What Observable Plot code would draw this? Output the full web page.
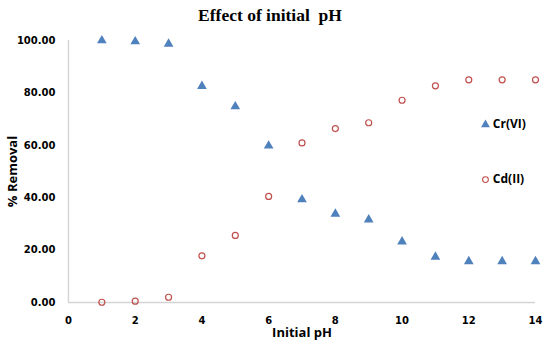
<!DOCTYPE html>
<html><head><meta charset="utf-8">
<script src="https://cdn.jsdelivr.net/npm/d3@7"></script>
<script src="https://cdn.jsdelivr.net/npm/@observablehq/plot@0.6"></script>
<style>
body{margin:0;background:#fff;}
#wrap{position:relative;width:550px;height:346px;}
#title{position:absolute;top:7px;left:0;width:540px;text-align:center;line-height:17.5px;font-family:"Liberation Serif","Times New Roman",serif;font-weight:bold;font-size:17.5px;color:#000;}
</style></head><body>
<div id="wrap"><div id="title">Effect of initial&nbsp; pH</div></div>
<script>
const pH = [1, 2, 3, 4, 5, 6, 7, 8, 9, 10, 11, 12, 13, 14];
const crVI = [100, 99.6, 98.7, 82.6, 74.8, 59.8, 39.3, 33.8, 31.6, 23.2, 17.4, 15.7, 15.7, 15.7];
const cdII = [0.1, 0.5, 2.0, 17.8, 25.6, 40.5, 60.9, 66.4, 68.6, 77.2, 82.7, 85.0, 85.0, 85.0];
const seriesNames = ["Cr(VI)", "Cd(II)"];
const xTicks = [0, 2, 4, 6, 8, 10, 12, 14];
const yTicks = [0, 20, 40, 60, 80, 100];

const crRows = pH.map((p, i) => ({pH: p, value: crVI[i], series: seriesNames[0]}));
const cdRows = pH.map((p, i) => ({pH: p, value: cdII[i], series: seriesNames[1]}));

// legend anchor in data space
const legendX = 12.5;
const legendRows = [
  {pH: legendX, value: 67.9, series: seriesNames[0]},
  {pH: legendX, value: 46.9, series: seriesNames[1]}
];

const blue = "#4f81bd", red = "#c0504d", axisGray = "#d4d4d4";

const chart = Plot.plot({
  width: 550,
  height: 346,
  marginLeft: 68,
  marginRight: 15,
  marginTop: 40,
  marginBottom: 44,
  style: {fontFamily: "'Open Sans', sans-serif", background: "#fff", color: "#000"},
  x: {domain: [0, 14]},
  y: {domain: [0, 100]},
  marks: [
    Plot.ruleY([0], {stroke: axisGray, strokeWidth: 1.4}),
    Plot.ruleX([0], {stroke: axisGray, strokeWidth: 1.4}),
    Plot.axisX(xTicks, {tickSize: 0, tickPadding: 14, fontFamily: "DejaVu Sans", fontSize: 10, fontWeight: "bold", fill: "#000", label: null}),
    Plot.axisY(yTicks, {tickSize: 0, tickPadding: 13, tickFormat: d3.format(".2f"), fontFamily: "DejaVu Sans", fontSize: 10, fontWeight: "bold", fill: "#000", label: null}),
    Plot.axisX([], {label: "Initial pH", labelArrow: "none", labelAnchor: "center", labelOffset: 34, fontFamily: "'Open Sans'", fontSize: 13, fontWeight: "bold", fill: "#000"}),
    Plot.axisY([], {label: "% Removal", labelArrow: "none", labelAnchor: "center", labelOffset: 61, fontFamily: "'Open Sans'", fontSize: 13, fontWeight: "bold", fill: "#000"}),
    Plot.dot(cdRows, {x: "pH", y: "value", r: 3, stroke: red, strokeWidth: 1.2, fill: "none"}),
    Plot.dot(crRows, {x: "pH", y: "value", symbol: "triangle", r: 3.6, fill: blue, stroke: "none"}),
    Plot.dot(legendRows, {x: "pH", y: "value", symbol: d => d.series === seriesNames[0] ? "triangle" : "circle",
      r: d => d.series === seriesNames[0] ? 3.6 : 2.8,
      fill: d => d.series === seriesNames[0] ? blue : "none",
      stroke: d => d.series === seriesNames[0] ? "none" : red, strokeWidth: 1.1}),
    Plot.text(legendRows, {x: "pH", y: "value", text: "series", dx: 7.4, textAnchor: "start", fontFamily: "'Open Sans'", fontSize: 12, fontWeight: "bold", fill: "#000"})
  ]
});
document.getElementById("wrap").appendChild(chart);
</script>
</body></html>
